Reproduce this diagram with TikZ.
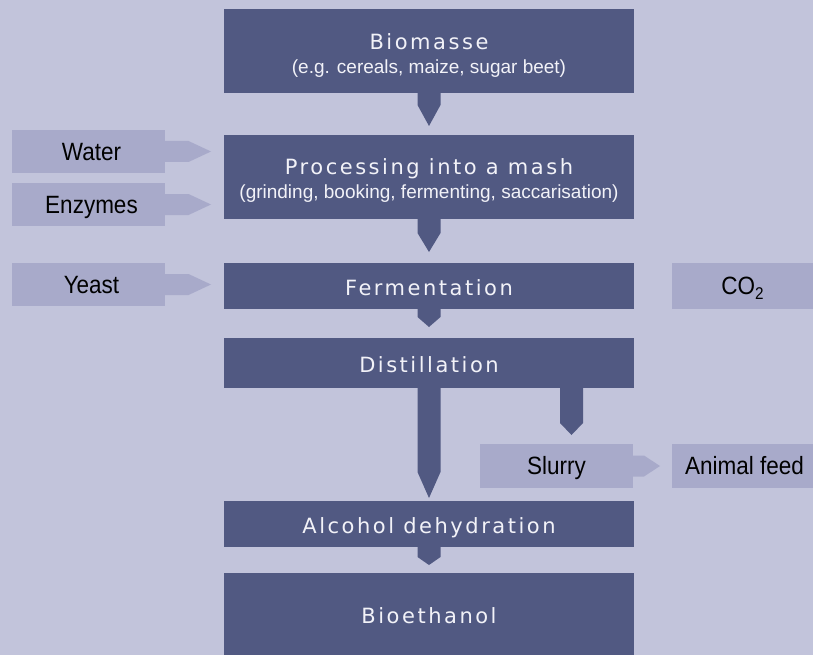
\documentclass[tikz,border=0pt]{standalone}
\usepackage{fontspec}
\setmainfont{Liberation Sans}
\newfontfamily\titlefont[LetterSpace=12]{DejaVu Sans}
\newfontfamily\labelfont[FakeStretch=0.9]{Liberation Sans}
\usetikzlibrary{calc}
\definecolor{bg}{RGB}{194,196,219}
\definecolor{dark}{RGB}{81,89,130}
\definecolor{light}{RGB}{168,170,202}
\definecolor{titletext}{RGB}{242,242,248}
% down arrow: [x offset]{node}{stub length}{tip distance}
\newcommand\flowdown[4][0]{%
  \fill[dark] ([xshift=#1pt-11.5pt,yshift=0.5pt]#2.south) -- ([xshift=#1pt-11.5pt,yshift=-#3pt]#2.south)
    -- ([xshift=#1pt,yshift=-#4pt]#2.south) -- ([xshift=#1pt+11.5pt,yshift=-#3pt]#2.south)
    -- ([xshift=#1pt+11.5pt,yshift=0.5pt]#2.south) -- cycle;}
% right arrow: {node}{stub length}{tip distance}
\newcommand\flowright[3]{%
  \fill[light] ([xshift=-0.5pt,yshift=10.5pt]#1.east) -- ([xshift=#2pt,yshift=10.5pt]#1.east)
    -- ([xshift=#3pt]#1.east) -- ([xshift=#2pt,yshift=-10.5pt]#1.east)
    -- ([xshift=-0.5pt,yshift=-10.5pt]#1.east) -- cycle;}
\begin{document}
\begin{tikzpicture}[x=1pt,y=-1pt,
  dbox/.style={fill=dark, text=titletext, inner sep=0pt, outer sep=0pt, align=center, minimum width=410pt},
  ttl/.style={font=\titlefont\fontsize{21}{25}\selectfont, text height=18.3pt, text depth=0pt},
  two/.style={text=titletext, inner sep=0pt, align=center, font=\fontsize{19}{24.5}\selectfont},
  lbox/.style={fill=light, text=black, inner sep=0pt, outer sep=0pt, minimum height=43pt,
    font=\labelfont\fontsize{25}{30}\selectfont, text height=17.9pt, text depth=0pt}]
\useasboundingbox (0,0) rectangle (813,655);
\fill[bg] (0,0) rectangle (813,655);

% main process boxes
\node[dbox, minimum height=84pt] (bio) at (429,51) {};
\node[two] (bioT) at ([yshift=-4.5pt]bio.center)
  {{\titlefont\fontsize{21}{24.5}\selectfont Biomasse}\\(e.g. cereals, maize, sugar beet)};
\node[dbox, minimum height=84pt] (proc) at (429,177) {};
\node[two] (procT) at ([yshift=-3.5pt]proc.center)
  {{\titlefont\fontsize{21}{24.5}\selectfont Processing into a mash}\\(grinding, booking, fermenting, saccarisation)};
\node[dbox, ttl, minimum height=46pt] (ferm) at (429,286) {Fermentation};
\node[dbox, ttl, minimum height=50pt] (dist) at (429,363) {Distillation};
\node[dbox, ttl, minimum height=46pt] (alc) at (429,524) {Alcohol dehydration};
\node[dbox, ttl, minimum height=82pt] (eth) at (429,614) {Bioethanol};

% side boxes
\node[lbox, minimum width=153pt] (water) at (88.5,151.5) {\hspace*{6pt}Water};
\node[lbox, minimum width=153pt] (enz) at (88.5,204.5) {\hspace*{6pt}Enzymes};
\node[lbox, minimum width=153pt] (yeast) at (88.5,284.5) {\hspace*{6pt}Yeast};
\node[lbox, minimum width=141pt, minimum height=46pt] (co2) at (742.5,286)
  {CO\raisebox{-5pt}{\fontsize{17}{17}\selectfont 2}};
\node[lbox, minimum width=153pt, minimum height=44pt] (slurry) at (556.5,466) {Slurry};
\node[lbox, minimum width=141pt, minimum height=44pt] (feed) at (742.5,466) {\hspace*{4pt}Animal feed};

% down arrows
\flowdown{bio}{12}{33}
\flowdown{proc}{14}{33}
\flowdown{ferm}{8}{18}
\flowdown{dist}{84}{110}
\flowdown[142.5]{dist}{35}{47}
\flowdown{alc}{10}{18}

% right arrows
\flowright{water}{23.5}{46}
\flowright{enz}{23.5}{46}
\flowright{yeast}{23.5}{46}
\flowright{slurry}{11}{27}
\end{tikzpicture}
\end{document}
